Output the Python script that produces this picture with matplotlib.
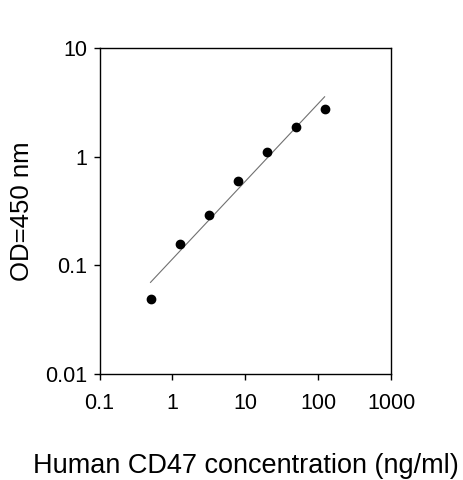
import numpy as np
import matplotlib
matplotlib.use('Agg')
import matplotlib.pyplot as plt
from matplotlib.ticker import FixedLocator, FixedFormatter, NullLocator

# Datos (curva estándar ELISA)
concentration = [0.5, 1.25, 3.125, 7.8, 19.5, 49, 122]
od450 = [0.049, 0.159, 0.293, 0.595, 1.11, 1.87, 2.79]

x_ticks = [0.1, 1, 10, 100, 1000]
x_labels = ['0.1', '1', '10', '100', '1000']
y_ticks = [0.01, 0.1, 1, 10]
y_labels = ['0.01', '0.1', '1', '10']

plt.rcParams['font.family'] = ['Liberation Sans', 'DejaVu Sans']

fig = plt.figure(figsize=(4.63, 4.80), dpi=100)
ax = fig.add_axes([0.215, 0.221, 0.630, 0.678])

# Ajuste lineal en escala log-log
logx = np.log10(concentration)
logy = np.log10(od450)
slope, intercept = np.polyfit(logx, logy, 1)
fit_x = np.array([concentration[0], concentration[-1]])
fit_y = 10 ** (intercept + slope * np.log10(fit_x))
ax.plot(fit_x, fit_y, color='#707070', linewidth=0.8, zorder=2)

ax.plot(concentration, od450, 'o', color='black', markersize=6, zorder=3)

ax.set_xscale('log')
ax.set_yscale('log')
ax.set_xlim(0.1, 1000)
ax.set_ylim(0.01, 10)

ax.xaxis.set_major_locator(FixedLocator(x_ticks))
ax.xaxis.set_major_formatter(FixedFormatter(x_labels))
ax.yaxis.set_major_locator(FixedLocator(y_ticks))
ax.yaxis.set_major_formatter(FixedFormatter(y_labels))
ax.xaxis.set_minor_locator(NullLocator())
ax.yaxis.set_minor_locator(NullLocator())

ax.tick_params(direction='out', length=4, width=1, labelsize=15.5)
ax.tick_params(axis='x', pad=10)
ax.tick_params(axis='y', pad=5)
for s in ax.spines.values():
    s.set_linewidth(1)

ax.set_xlabel('Human CD47 concentration (ng/ml)', fontsize=19.5, labelpad=28)
ax.set_ylabel('OD=450 nm', fontsize=18.5, labelpad=8)

fig.savefig('out.png', dpi=100)
